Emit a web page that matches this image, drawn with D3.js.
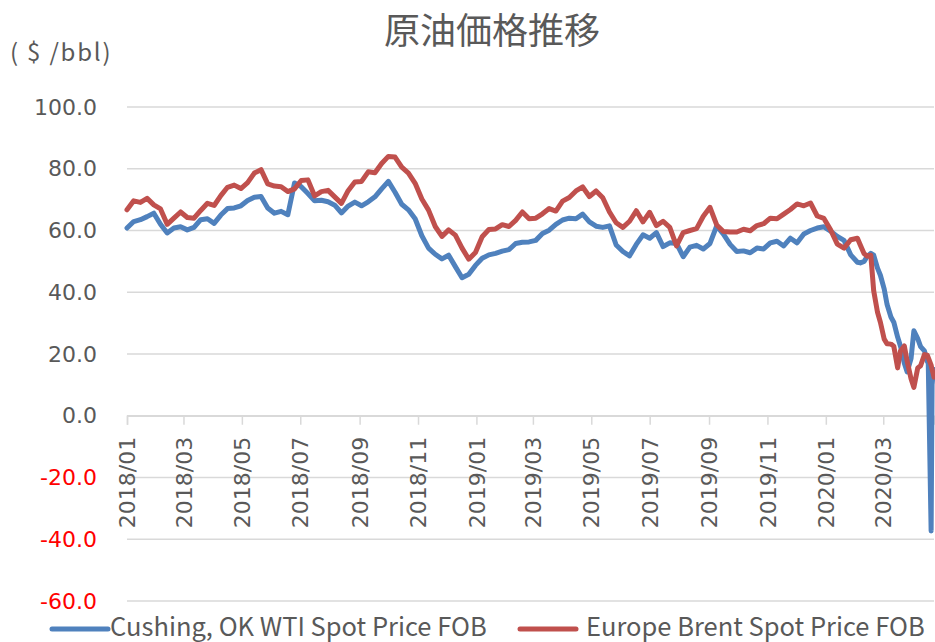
<!DOCTYPE html>
<html>
<head>
<meta charset="utf-8">
<script src="https://cdnjs.cloudflare.com/ajax/libs/d3/7.8.5/d3.min.js"></script>
<style>
  body { margin: 0; background: #fff; }
  svg { display: block; }
</style>
</head>
<body>
<div id="chart"></div>
<script>
// weekly samples (denser from Feb 2020)
var dates = [
  "2018-01-01","2018-01-08","2018-01-15","2018-01-22","2018-01-29","2018-02-05","2018-02-12","2018-02-19","2018-02-26",
  "2018-03-05","2018-03-12","2018-03-19","2018-03-26","2018-04-02","2018-04-09","2018-04-16","2018-04-23","2018-04-30",
  "2018-05-07","2018-05-14","2018-05-21","2018-05-28","2018-06-04","2018-06-11","2018-06-18","2018-06-25","2018-07-02",
  "2018-07-09","2018-07-16","2018-07-23","2018-07-30","2018-08-06","2018-08-13","2018-08-20","2018-08-27","2018-09-03",
  "2018-09-10","2018-09-17","2018-09-24","2018-10-01","2018-10-08","2018-10-15","2018-10-22","2018-10-29","2018-11-05",
  "2018-11-12","2018-11-19","2018-11-26","2018-12-03","2018-12-10","2018-12-17","2018-12-24","2018-12-31",
  "2019-01-07","2019-01-14","2019-01-21","2019-01-28","2019-02-04","2019-02-11","2019-02-18","2019-02-25","2019-03-04",
  "2019-03-11","2019-03-18","2019-03-25","2019-04-01","2019-04-08","2019-04-15","2019-04-22","2019-04-29","2019-05-06",
  "2019-05-13","2019-05-20","2019-05-27","2019-06-03","2019-06-10","2019-06-17","2019-06-24","2019-07-01","2019-07-08",
  "2019-07-15","2019-07-22","2019-07-29","2019-08-05","2019-08-12","2019-08-19","2019-08-26","2019-09-02","2019-09-09",
  "2019-09-16","2019-09-23","2019-09-30","2019-10-07","2019-10-14","2019-10-21","2019-10-28","2019-11-04","2019-11-11",
  "2019-11-18","2019-11-25","2019-12-02","2019-12-09","2019-12-16","2019-12-23","2019-12-30",
  "2020-01-06","2020-01-13","2020-01-20","2020-01-27","2020-02-03","2020-02-06","2020-02-10","2020-02-13","2020-02-17",
  "2020-02-20","2020-02-24","2020-02-27","2020-03-02","2020-03-05","2020-03-09","2020-03-12","2020-03-16","2020-03-19",
  "2020-03-23","2020-03-26","2020-03-30","2020-04-02","2020-04-06","2020-04-09","2020-04-13","2020-04-16","2020-04-17",
  "2020-04-20","2020-04-21","2020-04-22","2020-04-23"
];

var wti = [
  60.8, 62.9, 63.5, 64.5, 65.6, 62, 59.2, 60.8, 61.2, 60.2, 61, 63.5, 63.8, 62.3, 65, 67.1, 67.3, 68,
  69.7, 70.8, 71, 67.3, 65.6, 66.2, 65.1, 75.4, 74.2, 72, 69.6, 69.8, 69.3, 68.2, 65.7, 67.9, 69.2, 68,
  69.3, 70.9, 73.5, 75.9, 72.4, 68.5, 66.7, 63.8, 58.3, 54.3, 52.3, 50.8, 52, 48.3, 44.7, 45.8, 48.7,
  51, 52.1, 52.6, 53.3, 53.8, 55.8, 56.2, 56.3, 56.8, 59, 60.1, 62, 63.4, 64, 63.8, 65.3, 62.8, 61.4,
  61, 61.5, 55.3, 53.2, 51.8, 55.5, 58.6, 57.5, 59.3, 54.8, 56, 55.8, 51.5, 54.6, 55.2, 54, 55.8, 61.5,
  58.8, 55.5, 53.2, 53.4, 52.8, 54.3, 54, 56, 56.5, 55, 57.5, 56, 58.9, 60, 60.8, 61.2,
  59.8, 58.1, 56.8, 52.1, 49.7, 49.5, 50, 51.5, 52.6, 52, 47.8, 45.5, 41, 36, 32, 30.3, 25.5, 22.5,
  17, 14.2, 18.5, 27.5, 25, 22.4, 21, 17.6, 17, -37.3, 10, 13.8, 15
];

var brent = [
  66.7, 69.6, 69.1, 70.4, 68.3, 67, 62, 64, 66, 64.2, 64, 66.5, 68.8, 68.1, 71.3, 74, 74.7, 73.6,
  75.5, 78.6, 79.7, 75.1, 74.4, 74.2, 72.6, 73.5, 76.2, 76.4, 71.2, 72.6, 73, 70.9, 68.8, 72.9, 75.7, 75.9,
  79, 78.7, 81.7, 84, 83.8, 80.5, 78.6, 75.3, 70.2, 66.6, 61.3, 58.1, 60.2, 58.5, 54.3, 50.7, 52.9,
  58, 60.3, 60.5, 61.9, 61.3, 63.3, 66, 63.8, 64, 65.4, 67.1, 66.3, 69.5, 70.7, 72.8, 74.1, 71, 72.8,
  70.6, 66, 62.5, 61, 63, 66.4, 62.8, 65.9, 61.6, 63, 61, 55, 59.3, 60, 60.6, 64.6, 67.5, 61.8,
  59.7, 59.5, 59.5, 60.4, 59.9, 61.6, 62.2, 64, 63.8, 65.3, 66.8, 68.6, 68, 68.9, 64.7, 63.9,
  60.2, 55.6, 54.3, 57, 57.5, 55.3, 52.5, 51.7, 52, 40.5, 33.5, 30.3, 24.8, 23.3, 23.2, 22.5, 15.5, 21,
  22.6, 17.6, 12, 9.2, 15.5, 16.2, 19.8, 19.6, 18.8, 16.4, 15, 13.8, 12.5
];

var seriesNames = ["Cushing, OK WTI Spot Price FOB", "Europe Brent Spot Price FOB"];
var seriesColors = ["#4f81bd", "#c0504d"];
var yTicks = [-60, -40, -20, 0, 20, 40, 60, 80, 100];

var svgWidth = 935;
var svgHeight = 642;

var margin = { top: 107, right: 1, bottom: 41, left: 127 };
var width = svgWidth - margin.left - margin.right;
var height = svgHeight - margin.top - margin.bottom;

var parseDate = d3.timeParse("%Y-%m-%d");
var dateObjs = dates.map(parseDate);

var svg = d3.select("#chart")
  .append("svg")
  .attr("width", svgWidth)
  .attr("height", svgHeight)
  .style("background", "#fff");

var chartGroup = svg.append("g")
  .attr("transform", `translate(${margin.left}, ${margin.top})`);

var xScale = d3.scaleTime()
  .domain([parseDate("2018-01-01"), parseDate("2020-04-23")])
  .range([0, width]);

var yScale = d3.scaleLinear()
  .domain([-60, 100])
  .range([height, 0]);

// horizontal gridlines
chartGroup.append("g")
  .selectAll("line")
  .data(yTicks)
  .enter()
  .append("line")
  .attr("x1", 0)
  .attr("x2", width)
  .attr("y1", d => yScale(d))
  .attr("y2", d => yScale(d))
  .attr("stroke", "#d9d9d9")
  .attr("stroke-width", 1.5);

// y-axis labels (plain hyphen for negatives, like Excel)
var leftAxis = d3.axisLeft(yScale)
  .tickValues(yTicks)
  .tickSize(0)
  .tickPadding(30)
  .tickFormat(d => d.toFixed(1));

var yAxis = chartGroup.append("g").call(leftAxis);
yAxis.select(".domain").remove();
yAxis.selectAll("text")
  .attr("font-family", "DejaVu Sans, Verdana, sans-serif")
  .attr("font-size", "22px")
  .attr("fill", d => d < 0 ? "#ff0000" : "#595959");

// x-axis on the zero line
var bottomAxis = d3.axisBottom(xScale)
  .ticks(d3.timeMonth.every(2))
  .tickSize(9)
  .tickFormat(d3.timeFormat("%Y/%m"));

var xAxis = chartGroup.append("g")
  .attr("transform", `translate(0, ${yScale(0)})`)
  .call(bottomAxis);
xAxis.select(".domain").attr("stroke", "#d9d9d9").attr("stroke-width", 1.5);
xAxis.selectAll(".tick line").attr("stroke", "#d9d9d9").attr("stroke-width", 1.5);
xAxis.selectAll("text")
  .attr("font-family", "DejaVu Sans, Verdana, sans-serif")
  .attr("font-size", "22px")
  .attr("fill", "#595959")
  .attr("text-anchor", "end")
  .attr("transform", "rotate(-90)")
  .attr("x", -21)
  .attr("y", 0)
  .attr("dy", "0.35em");

// lines
var line = d3.line()
  .x(d => xScale(d[0]))
  .y(d => yScale(d[1]));

[wti, brent].forEach(function (values, i) {
  chartGroup.append("path")
    .datum(values.map((v, j) => [dateObjs[j], v]))
    .attr("fill", "none")
    .attr("stroke", seriesColors[i])
    .attr("stroke-width", 5)
    .attr("stroke-linejoin", "round")
    .attr("stroke-linecap", "round")
    .attr("d", line);
});

// title and unit
svg.append("text")
  .attr("x", 492)
  .attr("y", 44)
  .attr("text-anchor", "middle")
  .attr("font-family", "Noto Sans CJK JP, sans-serif")
  .attr("font-size", "36px")
  .attr("fill", "#595959")
  .text("原油価格推移");

svg.append("text")
  .attr("x", 10)
  .attr("y", 61)
  .attr("font-family", "Noto Sans CJK JP, sans-serif")
  .attr("font-size", "24px")
  .attr("letter-spacing", "1.8px")
  .attr("fill", "#595959")
  .text("( $ /bbl)");

// legend
var legendItems = [
  { x: 52, textX: 110 },
  { x: 520, textX: 586 }
];
legendItems.forEach(function (item, i) {
  svg.append("line")
    .attr("x1", item.x)
    .attr("x2", item.x + 56)
    .attr("y1", 629)
    .attr("y2", 629)
    .attr("stroke", seriesColors[i])
    .attr("stroke-width", 5)
    .attr("stroke-linecap", "round");
  svg.append("text")
    .attr("x", item.textX)
    .attr("y", 636)
    .attr("font-family", "Noto Sans CJK JP, sans-serif")
    .attr("font-size", "25.5px")
    .attr("fill", "#595959")
    .text(seriesNames[i]);
});
</script>
</body>
</html>
